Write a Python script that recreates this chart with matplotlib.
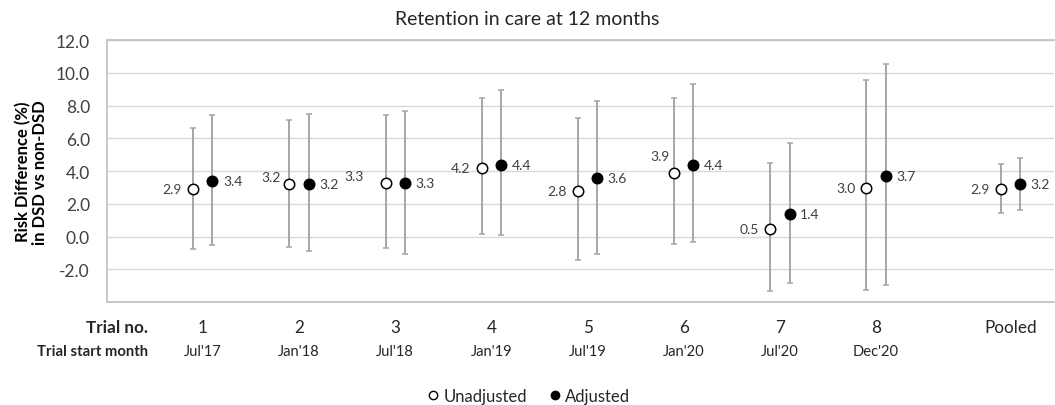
import matplotlib
matplotlib.use("Agg")
import matplotlib.pyplot as plt
import matplotlib.transforms as mtransforms
from matplotlib.lines import Line2D
import numpy as np

plt.rcParams['font.family'] = ['Lato', 'DejaVu Sans']

# data
trial_no = ['1', '2', '3', '4', '5', '6', '7', '8', 'Pooled']
start_month = ["Jul'17", "Jan'18", "Jul'18", "Jan'19", "Jul'19", "Jan'20", "Jul'20", "Dec'20", ""]

unadj = [2.9, 3.2, 3.3, 4.2, 2.8, 3.9, 0.5, 3.0, 2.9]
unadj_lo = [-0.74, -0.62, -0.70, 0.14, -1.44, -0.47, -3.32, -3.24, 1.45]
unadj_hi = [6.65, 7.11, 7.42, 8.49, 7.24, 8.45, 4.47, 9.56, 4.43]

adj = [3.4, 3.2, 3.3, 4.4, 3.6, 4.4, 1.4, 3.7, 3.2]
adj_lo = [-0.52, -0.88, -1.07, 0.08, -1.03, -0.33, -2.83, -2.95, 1.62]
adj_hi = [7.40, 7.48, 7.69, 8.92, 8.28, 9.29, 5.74, 10.56, 4.80]

yticks = np.arange(-2, 12.1, 2)


def main():
    fig = plt.figure(figsize=(10.55, 4.06), dpi=100)
    ax = fig.add_axes([0.1011, 0.253, 0.898, 0.646])

    pos = np.arange(1, 10, dtype=float)
    pos[-1] = 9.4          # pooled sits a bit further out
    dx = 0.1

    ua = np.array(unadj)
    aa = np.array(adj)
    ecol = '#a6a6a6'

    ax.errorbar(pos - dx, ua, yerr=[ua - np.array(unadj_lo), np.array(unadj_hi) - ua],
                fmt='o', ms=7.5, mfc='white', mec='black', mew=1.1,
                ecolor=ecol, elinewidth=1.4, capsize=2, capthick=1.2, zorder=3)
    ax.errorbar(pos + dx, aa, yerr=[aa - np.array(adj_lo), np.array(adj_hi) - aa],
                fmt='o', ms=7.5, mfc='black', mec='black', mew=1.1,
                ecolor=ecol, elinewidth=1.4, capsize=2, capthick=1.2, zorder=3)

    # data labels
    lab_col = '#404040'
    # special offsets (points) for a few unadjusted labels
    special = {1: (-6, 5.5), 2: (-16, 5), 5: (-3.5, 12)}
    for i in range(len(pos)):
        ox, oy = special.get(i, (-8, 0))
        ax.annotate('%.1f' % unadj[i], (pos[i] - dx, unadj[i]), xytext=(ox, oy),
                    textcoords='offset points', ha='right', va='center',
                    fontsize=10, color=lab_col)
        ax.annotate('%.1f' % adj[i], (pos[i] + dx, adj[i]), xytext=(7.5, 0),
                    textcoords='offset points', ha='left', va='center',
                    fontsize=10, color=lab_col)

    ax.set_xlim(0, 9.85)
    ax.set_ylim(-4, 12)
    ax.set_yticks([-4] + list(yticks))
    ax.set_yticklabels([''] + ['%.1f' % v for v in yticks], fontsize=12.5, color='#404040')
    ax.set_xticks([])
    ax.tick_params(axis='y', length=0, pad=12)
    ax.grid(True, axis='y', color='#d9d9d9', linewidth=1)
    ax.set_axisbelow(True)
    for s in ax.spines.values():
        s.set_color('#bfbfbf')
        s.set_linewidth(1.2)
    ax.spines['right'].set_visible(False)

    ax.set_ylabel('Risk Difference (%)\nin DSD vs non-DSD', fontsize=12,
                  fontweight='bold', labelpad=6, linespacing=1.0)
    fig.text(0.5, 0.953, 'Retention in care at 12 months', ha='center', va='center',
             fontsize=14, color='#262626')

    # category rows under the axis
    trans = mtransforms.blended_transform_factory(ax.transData, fig.transFigure)
    for i in range(len(pos)):
        ax.text(pos[i], 0.192, trial_no[i], transform=trans, ha='center', va='center',
                fontsize=12.3, color='#262626')
        ax.text(pos[i], 0.133, start_month[i], transform=trans, ha='center', va='center',
                fontsize=10.6, color='#262626')
    fig.text(0.14, 0.192, 'Trial no.', ha='right', va='center', fontsize=12.3,
             fontweight='bold', color='#262626')
    fig.text(0.14, 0.133, 'Trial start month', ha='right', va='center', fontsize=10.7,
             fontweight='bold', color='#262626')

    handles = [Line2D([], [], ls='none', marker='o', ms=6, mfc='white', mec='black', mew=1),
               Line2D([], [], ls='none', marker='o', ms=6, mfc='black', mec='black')]
    fig.legend(handles, ['Unadjusted', 'Adjusted'], loc='center', ncol=2,
               bbox_to_anchor=(0.5, 0.022), frameon=False, fontsize=12,
               handletextpad=0.1, columnspacing=1.2, handlelength=1.0,
               labelcolor='#262626')

    fig.savefig('out.png', dpi=100)


if __name__ == '__main__':
    main()
